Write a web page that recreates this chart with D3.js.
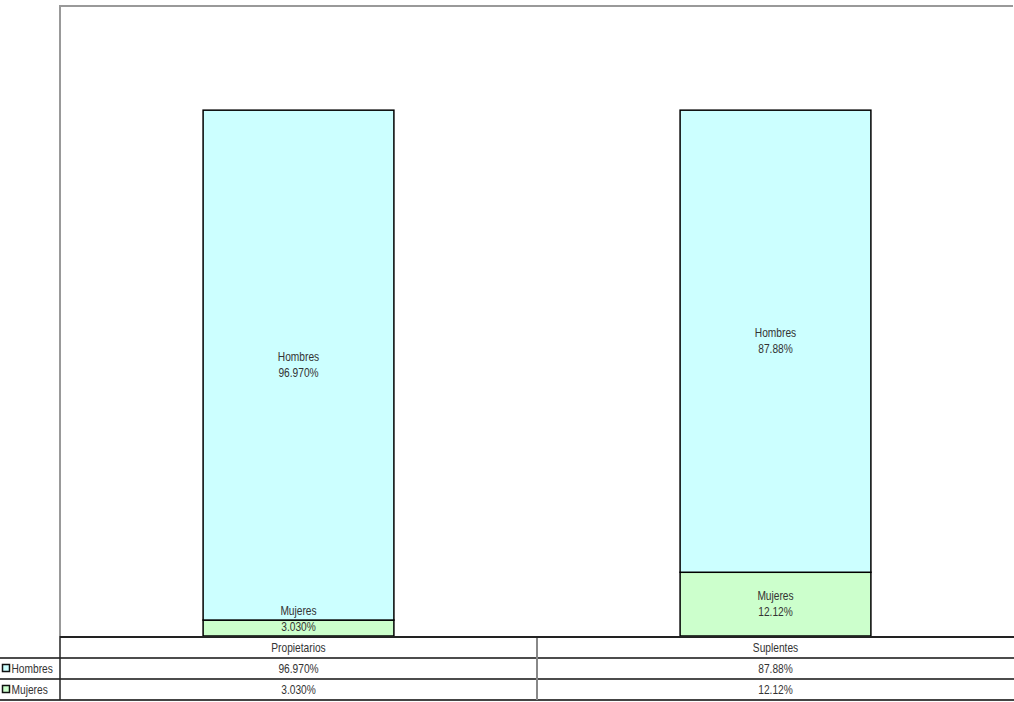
<!DOCTYPE html>
<html>
<head>
<meta charset="utf-8">
<script src="https://cdn.jsdelivr.net/npm/d3@7"></script>
<style>
  html, body { margin: 0; padding: 0; background: #fff; }
  svg { display: block; }
  text { font-family: "Liberation Sans Narrow", "Arial Narrow", "Liberation Sans", Arial, sans-serif; font-size: 12px; fill: #333; }
</style>
</head>
<body>
<svg id="chart" width="1014" height="702"></svg>
<script>
const categories = ["Propietarios", "Suplentes"];
const seriesNames = ["Hombres", "Mujeres"];
const hombres = [96.970, 87.88];
const mujeres = [3.030, 12.12];
const hombresLabels = ["96.970%", "87.88%"];
const mujeresLabels = ["3.030%", "12.12%"];
const seriesColors = ["#CCFFFF", "#CCFFCC"];

const W = 1014, H = 702;
const plot = { left: 60, right: 1014, top: 5, bottom: 636 };
const rowH = 21;
const NARROW = 0.85;

const svg = d3.select("#chart");

function narrowText(sel, x0, y0, txt, anchor) {
  return sel.append("text")
    .attr("transform", `translate(${x0},${y0}) scale(${NARROW},1)`)
    .attr("text-anchor", anchor || "middle")
    .text(txt);
}

const x = d3.scaleBand().domain(categories).range([plot.left, plot.right]).padding(0);
const y = d3.scaleLinear().domain([0, 120]).range([plot.bottom, plot.top]);
const barFrac = 0.4;
const bw = x.bandwidth() * barFrac;

// plot frame (top + left, grey)
svg.append("line").attr("x1", plot.left).attr("x2", plot.right - 1).attr("y1", plot.top + 1).attr("y2", plot.top + 1)
  .attr("stroke", "#999").attr("stroke-width", 2);
svg.append("line").attr("x1", plot.left).attr("x2", plot.left).attr("y1", plot.top).attr("y2", plot.bottom)
  .attr("stroke", "#999").attr("stroke-width", 2);

// stacked data
const data = categories.map((c, i) => {
  const segs = [];
  let base = 0;
  [[mujeres[i], mujeresLabels[i], 1, "Mujeres"], [hombres[i], hombresLabels[i], 0, "Hombres"]].forEach(([v, lab, ci, name]) => {
    segs.push({ cat: c, y0: base, y1: base + v, label: lab, color: seriesColors[ci], name });
    base += v;
  });
  return segs;
}).flat();

const g = svg.append("g");
g.selectAll("rect.seg").data(data).join("rect")
  .attr("class", "seg")
  .attr("x", d => x(d.cat) + (x.bandwidth() - bw) / 2)
  .attr("width", bw)
  .attr("y", d => y(d.y1))
  .attr("height", d => y(d.y0) - y(d.y1))
  .attr("fill", d => d.color)
  .attr("stroke", "#000")
  .attr("stroke-width", 1.5);

// labels
data.forEach(d => {
  const cx = x(d.cat) + x.bandwidth() / 2;
  let cy = (y(d.y0) + y(d.y1)) / 2;
  const maxCy = plot.bottom - 17;
  if (cy > maxCy) cy = maxCy;
  narrowText(g, cx, cy - 4, d.name);
  narrowText(g, cx, cy + 12, d.label);
});

// plot baseline
svg.append("line").attr("x1", plot.left).attr("x2", W).attr("y1", plot.bottom + 1).attr("y2", plot.bottom + 1)
  .attr("stroke", "#222").attr("stroke-width", 2);

// data table
const t0 = plot.bottom + 1;
const rows = [
  { name: null, vals: categories },
  { name: seriesNames[0], vals: hombresLabels, color: seriesColors[0] },
  { name: seriesNames[1], vals: mujeresLabels, color: seriesColors[1] }
];
const tbl = svg.append("g");
rows.forEach((r, ri) => {
  const ry = t0 + ri * rowH;
  r.vals.forEach((v, ci) => {
    narrowText(tbl, x(categories[ci]) + x.bandwidth() / 2, ry + rowH / 2 + 4, v);
  });
  if (r.name) {
    tbl.append("line").attr("x1", 0).attr("x2", W).attr("y1", ry).attr("y2", ry)
      .attr("stroke", "#111").attr("stroke-width", 1.5);
    tbl.append("rect").attr("x", 2.5).attr("y", ry + 6.5).attr("width", 7).attr("height", 7)
      .attr("fill", r.color).attr("stroke", "#111").attr("stroke-width", 1.5);
    narrowText(tbl, 11.5, ry + rowH / 2 + 4, r.name, "start");
  }
});
const tEnd = t0 + rows.length * rowH;
tbl.append("line").attr("x1", 0).attr("x2", W).attr("y1", tEnd).attr("y2", tEnd)
  .attr("stroke", "#444").attr("stroke-width", 2);
tbl.append("line").attr("x1", plot.left).attr("x2", plot.left).attr("y1", plot.bottom).attr("y2", tEnd)
  .attr("stroke", "#222").attr("stroke-width", 1.5);
categories.slice(1).forEach(c => {
  tbl.append("line").attr("x1", x(c)).attr("x2", x(c)).attr("y1", plot.bottom + 2).attr("y2", tEnd)
    .attr("stroke", "#888").attr("stroke-width", 2);
});
</script>
</body>
</html>
